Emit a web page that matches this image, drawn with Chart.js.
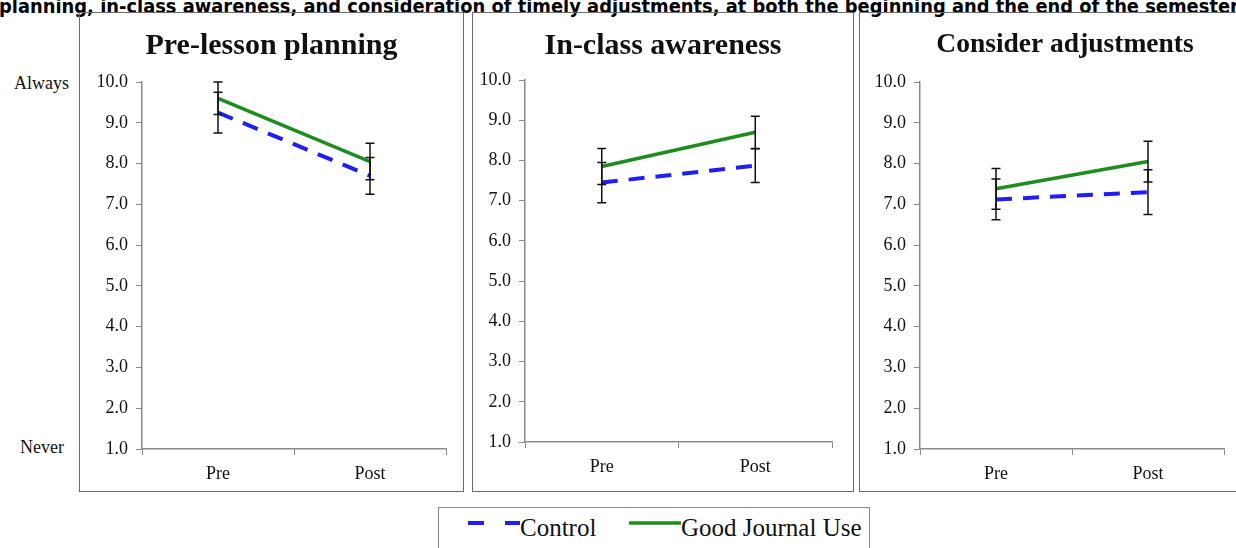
<!DOCTYPE html>
<html>
<head>
<meta charset="utf-8">
<script src="https://cdn.jsdelivr.net/npm/chart.js@4/dist/chart.umd.min.js"></script>
<style>
  html, body { margin: 0; padding: 0; background: #fff; }
  body { width: 1236px; height: 548px; position: relative; overflow: hidden; }
  #heading {
    position: absolute; left: -1px; top: -6px; white-space: nowrap;
    font: bold 20px "DejaVu Sans", sans-serif; color: #000; transform-origin: 0 0;
  }
  .panel { position: absolute; top: 12px; height: 478px; border: 1px solid #6c6c6c; }
  .panel canvas { display: block; }
  .side { position: absolute; font: 18px "Liberation Serif", serif; color: #111; }
  #legend {
    position: absolute; left: 438px; top: 507px; width: 430px; height: 60px;
    border: 1px solid #8a8a8a; font: 25px "Liberation Serif", serif; color: #111;
  }
  #legend span { position: absolute; top: 6px; }
  #legend svg { position: absolute; top: 0; left: 0; }
</style>
</head>
<body>
<div id="heading">planning, in-class awareness, and consideration of timely adjustments, at both the beginning and the end of the semester</div>
<div class="side" style="left:14px; top:73px;">Always</div>
<div class="side" style="left:20px; top:437px;">Never</div>

<div class="panel" style="left:79px; width:383px;"><canvas id="c0" width="383" height="478"></canvas></div>
<div class="panel" style="left:472px; width:380px;"><canvas id="c1" width="380" height="478"></canvas></div>
<div class="panel" style="left:859px; width:410px;"><canvas id="c2" width="410" height="478"></canvas></div>

<div id="legend">
  <svg width="430" height="40">
    <line x1="29" y1="15" x2="45" y2="15" stroke="#1f1ff5" stroke-width="4"/>
    <line x1="66" y1="15" x2="81" y2="15" stroke="#1f1ff5" stroke-width="4"/>
    <line x1="190" y1="15" x2="242" y2="15" stroke="#1e8c1e" stroke-width="3.5"/>
  </svg>
  <span style="left:81px;">Control</span>
  <span style="left:242px;">Good Journal Use</span>
</div>

<script>
// data
const categories = ['Pre', 'Post'];
const panelTitles = ['Pre-lesson planning', 'In-class awareness', 'Consider adjustments'];
const controlMeans = [[9.25, 7.7], [7.45, 7.87], [7.12, 7.3]];
const controlErrors = [[0.5, 0.45], [0.5, 0.42], [0.5, 0.55]];
const journalMeans = [[9.6, 8.05], [7.85, 8.7], [7.38, 8.05]];
const journalErrors = [[0.4, 0.45], [0.45, 0.4], [0.5, 0.5]];
const yMin = 1;
const yMax = 10;

// per panel layout: y axis position, empty room right of the x axis,
// title size and gap, x axis height
const layouts = [
  { axisX: 62, right: 17, titleSize: 30, titleBottom: 18, xHeight: 42 },
  { axisX: 52, right: 21, titleSize: 30, titleBottom: 16, xHeight: 49 },
  { axisX: 60, right: 46, titleSize: 27.5, titleBottom: 21, xHeight: 42 }
];

const errorBars = {
  id: 'errorBars',
  afterDatasetsDraw(chart) {
    const ctx = chart.ctx;
    const y = chart.scales.y;
    ctx.save();
    ctx.strokeStyle = '#111';
    ctx.lineWidth = 1.5;
    chart.data.datasets.forEach((ds, di) => {
      const meta = chart.getDatasetMeta(di);
      meta.data.forEach((pt, i) => {
        const top = y.getPixelForValue(ds.data[i] + ds.errors[i]);
        const bot = y.getPixelForValue(ds.data[i] - ds.errors[i]);
        ctx.beginPath();
        ctx.moveTo(pt.x, top); ctx.lineTo(pt.x, bot);
        ctx.moveTo(pt.x - 4.5, top); ctx.lineTo(pt.x + 4.5, top);
        ctx.moveTo(pt.x - 4.5, bot); ctx.lineTo(pt.x + 4.5, bot);
        ctx.stroke();
      });
    });
    ctx.restore();
  }
};

panelTitles.forEach((title, p) => {
  const lay = layouts[p];
  new Chart(document.getElementById('c' + p), {
    type: 'line',
    data: {
      labels: categories,
      datasets: [{
        label: 'Control',
        data: controlMeans[p],
        errors: controlErrors[p],
        borderColor: '#1f1ff5',
        borderWidth: 4,
        borderDash: [16, 11],
        pointRadius: 0,
        fill: false
      }, {
        label: 'Good Journal Use',
        data: journalMeans[p],
        errors: journalErrors[p],
        borderColor: '#1e8c1e',
        borderWidth: 3.5,
        pointRadius: 0,
        fill: false
      }]
    },
    options: {
      responsive: false,
      animation: false,
      layout: { padding: 0 },
      plugins: {
        legend: { display: false },
        tooltip: { enabled: false },
        title: {
          display: true,
          text: title,
          color: '#111',
          font: { family: 'Liberation Serif', size: lay.titleSize, weight: 'bold' },
          padding: { top: 15, bottom: lay.titleBottom }
        }
      },
      scales: {
        x: {
          offset: true,
          grid: { display: true, drawOnChartArea: false, offset: true, color: '#8a8a8a', tickLength: 6 },
          border: { color: '#8a8a8a', width: 1.5 },
          ticks: { color: '#111', padding: 8, font: { family: 'Liberation Serif', size: 18 } },
          afterFit(scale) { scale.height = lay.xHeight; }
        },
        y: {
          min: yMin,
          max: yMax,
          grid: { display: true, drawOnChartArea: false, color: '#8a8a8a', tickLength: 6 },
          border: { color: '#8a8a8a', width: 1.5 },
          ticks: {
            stepSize: 1,
            color: '#111',
            padding: 8,
            font: { family: 'Liberation Serif', size: 18 },
            callback: v => v.toFixed(1)
          },
          afterFit(scale) { scale.width = lay.axisX; }
        },
        // empty axis that only keeps room on the right, so the title stays centred
        spacer: {
          position: 'right',
          min: yMin,
          max: yMax,
          grid: { display: false },
          border: { display: false },
          ticks: { display: false },
          afterFit(scale) { scale.width = lay.right; }
        }
      }
    },
    plugins: [errorBars]
  });
});

// stretch the clipped heading to the width of the page
const head = document.getElementById('heading');
head.style.transform = 'scaleX(' + (1240 / head.offsetWidth) + ')';
</script>
</body>
</html>
